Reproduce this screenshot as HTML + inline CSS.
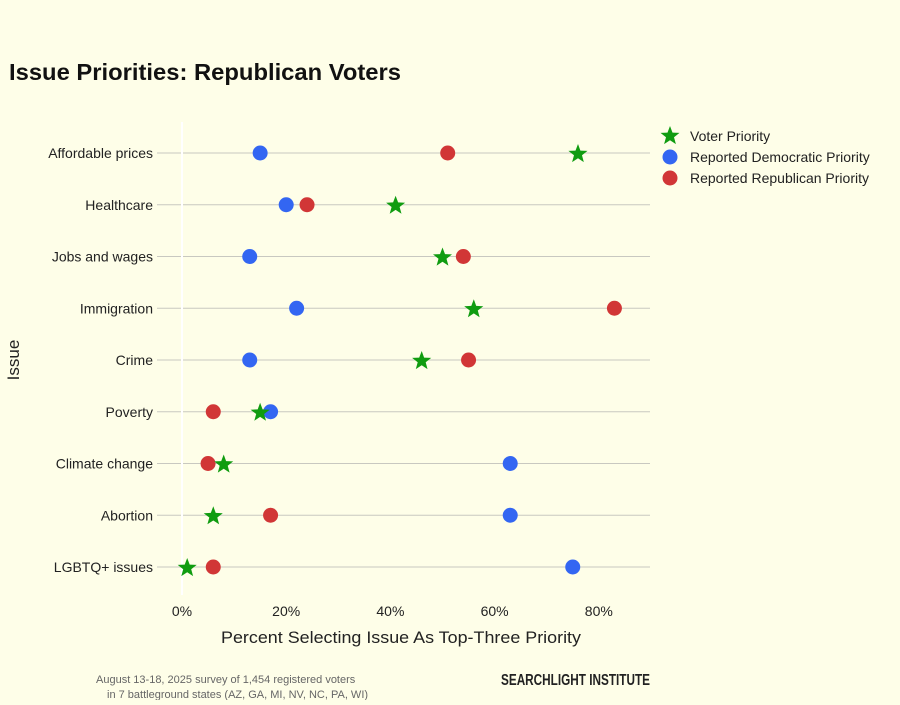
<!DOCTYPE html>
<html><head><meta charset="utf-8"><style>
body{margin:0;background:#fefee8;font-family:"Liberation Sans",sans-serif}
svg text{font-family:"Liberation Sans",sans-serif}
</style></head><body>
<svg id="chart" width="900" height="700" xmlns="http://www.w3.org/2000/svg">
<rect width="900" height="700" fill="#fefee8"/>
<text x="9" y="80" font-size="23" font-weight="bold" fill="#111" textLength="392" lengthAdjust="spacingAndGlyphs">Issue Priorities: Republican Voters</text>
<text x="401" y="643" font-size="17" text-anchor="middle" fill="#222" textLength="360" lengthAdjust="spacingAndGlyphs">Percent Selecting Issue As Top-Three Priority</text>
<text transform="translate(19,360) rotate(-90)" font-size="17" text-anchor="middle" fill="#222">Issue</text>
<text x="96" y="683" font-size="11" fill="#666">August 13-18, 2025 survey of 1,454 registered voters</text>
<text x="107" y="698" font-size="11" fill="#666">in 7 battleground states (AZ, GA, MI, NV, NC, PA, WI)</text>
<text x="501" y="685" font-size="16" font-weight="bold" fill="#222" textLength="149" lengthAdjust="spacingAndGlyphs">SEARCHLIGHT INSTITUTE</text>
<g id="legend"></g>
<g id="plot"></g>
</svg>
<script>
const categories=["Affordable prices","Healthcare","Jobs and wages","Immigration","Crime","Poverty","Climate change","Abortion","LGBTQ+ issues"];
const voterValues=[76,41,50,56,46,15,8,6,1];
const demValues=[15,20,13,22,13,17,63,63,75];
const repValues=[51,24,54,83,55,6,5,17,6];
const xTicks=[0,20,40,60,80];
const NS="http://www.w3.org/2000/svg";
const x=v=>182+v*5.21;
const y=i=>153+i*51.75;
const plot=document.getElementById('plot');
function mk(t,a,p){const e=document.createElementNS(NS,t);for(const k in a)e.setAttribute(k,a[k]);(p||plot).appendChild(e);return e;}
function star(cx,cy,r){let p=[];for(let k=0;k<10;k++){const rr=k%2?r*0.42:r;const a=-Math.PI/2+k*Math.PI/5;p.push((cx+rr*Math.cos(a)).toFixed(1)+','+(cy+rr*Math.sin(a)).toFixed(1));}return p.join(' ');}
categories.forEach((c,i)=>{
  const g=mk('line',{x1:157,x2:650,y1:y(i),y2:y(i),stroke:'#c8c8c0','stroke-width':1});
  
  
  const t=mk('text',{x:153,y:y(i)+5,'font-size':14,'text-anchor':'end',fill:'#222'});t.textContent=c;
  
  
});
const z=mk('line',{x1:x(0),x2:x(0),y1:122,y2:595,stroke:'#ffffff','stroke-width':2});


xTicks.forEach(v=>{const t=mk('text',{x:x(v),y:616,'font-size':14,'text-anchor':'middle',fill:'#222'});t.textContent=v+'%';
  
  });
categories.forEach((c,i)=>{
  const d=mk('circle',{cx:x(demValues[i]),cy:y(i),r:7.5,fill:'#3366f2'});
  
  
  const r=mk('circle',{cx:x(repValues[i]),cy:y(i),r:7.5,fill:'#d13636'});
  
  
  const s=mk('polygon',{points:star(x(voterValues[i]),y(i)+1,10),fill:'#109c10'});
  
  
});
const lg=document.getElementById('legend');
const items=[["Voter Priority","star","#109c10"],["Reported Democratic Priority","c","#3366f2"],["Reported Republican Priority","c","#d13636"]];
items.forEach((it,k)=>{const cy=136+k*21;
  const m=it[1]=='star'?mk('polygon',{points:star(670,cy,10),fill:it[2]},lg):mk('circle',{cx:670,cy:cy,r:7.5,fill:it[2]},lg);
  
  
  const t=mk('text',{x:690,y:cy+5,'font-size':14,fill:'#222'},lg);t.textContent=it[0];
  
  
});
</script>
</body></html>
